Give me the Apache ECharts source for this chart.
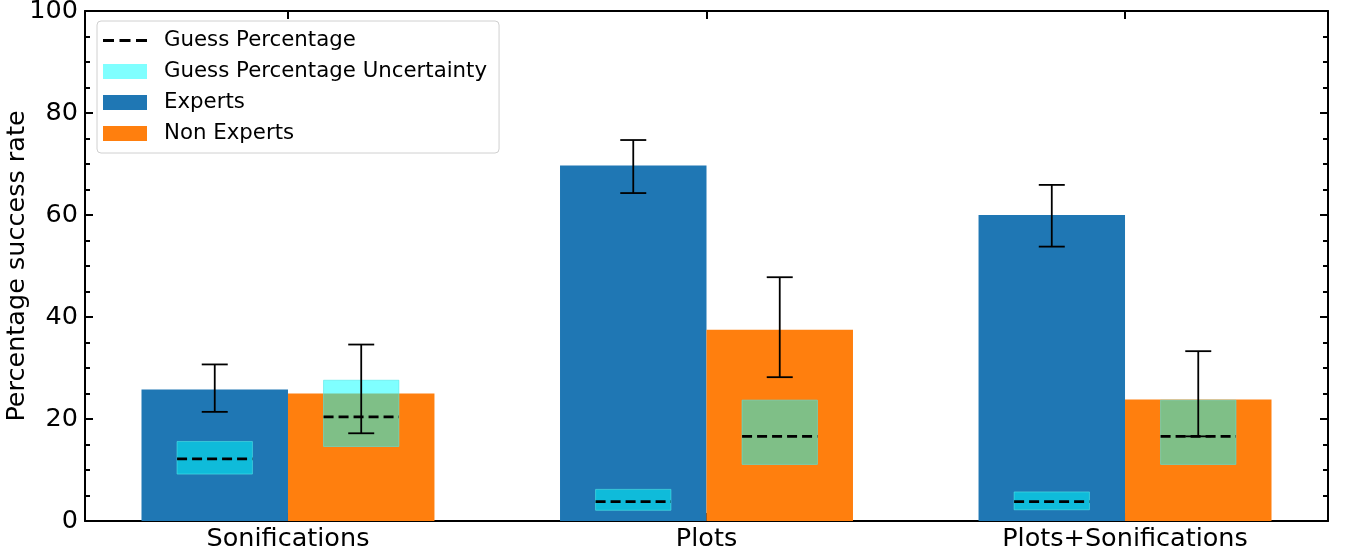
<!DOCTYPE html>
<html><head><meta charset="utf-8">
<script src="https://cdn.jsdelivr.net/npm/echarts@6/dist/echarts.min.js"></script>
<style>html,body{margin:0;padding:0;background:#fff}#c{width:1347px;height:556px}</style>
</head><body><div id="c"></div>
<script>
const categories = ['Sonifications', 'Plots', 'Plots+Sonifications'];
const experts = [25.8, 69.7, 60.0];
const nonExperts = [25.0, 37.5, 23.8];
const expertsErrLow = [21.4, 64.3, 53.8];
const expertsErrHigh = [30.7, 74.7, 65.9];
const nonExpertsErrLow = [17.2, 28.2, 16.6];
const nonExpertsErrHigh = [34.6, 47.8, 33.3];
const guessExperts = [12.2, 3.8, 3.8];
const guessExpertsLow = [9.2, 2.1, 2.2];
const guessExpertsHigh = [15.6, 6.2, 5.7];
const guessNonExperts = [20.4, 16.6, 16.6];
const guessNonExpertsLow = [14.6, 11.1, 11.1];
const guessNonExpertsHigh = [27.6, 23.7, 23.7];
const yTicks = [0, 20, 40, 60, 80, 100];

const BW = 0.35;   // bar width in x units
const GW = 0.09;   // half width of guess box

const FONT = 'DejaVu Sans';
const chart = echarts.init(document.getElementById('c'), null, {renderer: 'canvas'});

const barRows = [];
categories.forEach((c, i) => {
  barRows.push([i - BW / 2, experts[i], 0]);
  barRows.push([i + BW / 2, nonExperts[i], 1]);
});
const errRows = [];
categories.forEach((c, i) => {
  errRows.push([i - BW / 2, expertsErrLow[i], expertsErrHigh[i]]);
  errRows.push([i + BW / 2, nonExpertsErrLow[i], nonExpertsErrHigh[i]]);
});
const boxRows = [];
const guessRows = [];
categories.forEach((c, i) => {
  boxRows.push([i - BW / 2, guessExpertsLow[i], guessExpertsHigh[i]]);
  boxRows.push([i + BW / 2, guessNonExpertsLow[i], guessNonExpertsHigh[i]]);
  guessRows.push([i - BW / 2, guessExperts[i]]);
  guessRows.push([i + BW / 2, guessNonExperts[i]]);
});

function barSeries(name, color, group) {
  return {
    name, type: 'custom', xAxisIndex: 0, yAxisIndex: 0, z: 2,
    itemStyle: {color},
    encode: {x: 0, y: 1},
    data: barRows.filter(r => r[2] === group),
    renderItem(params, api) {
      const x = api.value(0), v = api.value(1);
      const p0 = api.coord([x - BW / 2, v]);
      const p1 = api.coord([x + BW / 2, 0]);
      return {type: 'rect', shape: {x: p0[0], y: p0[1], width: p1[0] - p0[0], height: p1[1] - p0[1]},
        style: {fill: color}};
    }
  };
}

const option = {
  animation: false,
  backgroundColor: '#fff',
  textStyle: {fontFamily: FONT},
  grid: {left: 85, right: 19, top: 11, bottom: 35, containLabel: false, outerBoundsMode: 'none'},
  legend: {
    left: 97, top: 21, orient: 'vertical', itemGap: 10, itemWidth: 44, itemHeight: 15,
    padding: [9, 12, 9, 6],
    borderColor: '#d0d0d0', borderWidth: 1, borderRadius: 4, backgroundColor: 'rgba(255,255,255,0.8)',
    textStyle: {fontFamily: FONT, fontSize: 21.3, lineHeight: 21, color: '#000', padding: [0, 0, 0, 12]},
    data: [
      {name: 'Guess Percentage', icon: 'path://M0,0h10v2.6h-10z M15,0h10v2.6h-10z M30,0h10v2.6h-10z', itemStyle: {color: '#000'}},
      {name: 'Guess Percentage Uncertainty', icon: 'rect', itemStyle: {color: 'rgba(0,255,255,0.5)'}},
      {name: 'Experts', icon: 'rect', itemStyle: {color: '#1f77b4'}},
      {name: 'Non Experts', icon: 'rect', itemStyle: {color: '#ff7f0e'}}
    ]
  },
  xAxis: [{
    type: 'value', min: -0.485, max: 2.485, position: 'bottom',
    axisLine: {show: true, onZero: false, lineStyle: {color: '#000', width: 2}},
    splitLine: {show: false},
    axisTick: {show: true, inside: true, length: 8, customValues: [0, 1, 2], lineStyle: {color: '#000', width: 2}},
    axisLabel: {show: true, customValues: [0, 1, 2], margin: 5, fontSize: 25.5, color: '#000', fontFamily: FONT,
      formatter: v => categories[Math.round(v)]}
  }, {
    type: 'value', min: -0.485, max: 2.485, position: 'top',
    axisLine: {show: true, onZero: false, lineStyle: {color: '#000', width: 2}},
    splitLine: {show: false},
    axisTick: {show: true, inside: true, length: 8, customValues: [0, 1, 2], lineStyle: {color: '#000', width: 2}},
    axisLabel: {show: false}
  }],
  yAxis: [{
    type: 'value', min: 0, max: 100, interval: 20, position: 'left',
    name: 'Percentage success rate', nameLocation: 'middle', nameGap: 55, nameMoveOverlap: false,
    nameTextStyle: {fontSize: 25.5, color: '#000', fontFamily: FONT},
    axisLine: {show: true, onZero: false, lineStyle: {color: '#000', width: 2}},
    splitLine: {show: false},
    axisTick: {show: true, inside: true, length: 8, lineStyle: {color: '#000', width: 2}},
    minorTick: {show: true, splitNumber: 4, length: 5, lineStyle: {color: '#000', width: 2}},
    minorSplitLine: {show: false},
    axisLabel: {fontSize: 25.5, color: '#000', margin: 7, fontFamily: FONT,
      customValues: yTicks, formatter: v => String(v)}
  }, {
    type: 'value', min: 0, max: 100, interval: 20, position: 'right',
    axisLine: {show: true, onZero: false, lineStyle: {color: '#000', width: 2}},
    splitLine: {show: false},
    axisTick: {show: true, inside: true, length: 8, lineStyle: {color: '#000', width: 2}},
    minorTick: {show: true, splitNumber: 4, length: 5, lineStyle: {color: '#000', width: 2}},
    minorSplitLine: {show: false},
    axisLabel: {show: false}
  }],
  series: [
    barSeries('Experts', '#1f77b4', 0),
    barSeries('Non Experts', '#ff7f0e', 1),
    {
      name: 'Guess Percentage Uncertainty', type: 'custom', z: 3,
      itemStyle: {color: 'rgba(0,255,255,0.5)'},
      encode: {x: 0, y: [1, 2]},
      data: boxRows,
      renderItem(params, api) {
        const x = api.value(0);
        const p0 = api.coord([x - GW, api.value(2)]);
        const p1 = api.coord([x + GW, api.value(1)]);
        return {type: 'rect', shape: {x: p0[0], y: p0[1], width: p1[0] - p0[0], height: p1[1] - p0[1]},
          style: {fill: 'rgba(0,255,255,0.5)', stroke: 'rgba(80,230,230,0.6)', lineWidth: 1}};
      }
    },
    {
      name: 'Guess Percentage', type: 'custom', z: 4,
      itemStyle: {color: '#000'},
      encode: {x: 0, y: 1},
      data: guessRows,
      renderItem(params, api) {
        const x = api.value(0), v = api.value(1);
        const p0 = api.coord([x - GW, v]);
        const p1 = api.coord([x + GW, v]);
        return {type: 'line', shape: {x1: p0[0], y1: p0[1], x2: p1[0], y2: p1[1]},
          style: {stroke: '#000', lineWidth: 2.8, lineDash: [10, 5]}};
      }
    },
    {
      name: 'err', type: 'custom', z: 5,
      encode: {x: 0, y: [1, 2]},
      data: errRows,
      renderItem(params, api) {
        const x = api.value(0);
        const lo = api.coord([x, api.value(1)]);
        const hi = api.coord([x, api.value(2)]);
        const cw = 13;
        const st = {stroke: '#000', lineWidth: 1.8};
        return {type: 'group', children: [
          {type: 'line', shape: {x1: lo[0], y1: lo[1], x2: hi[0], y2: hi[1]}, style: st},
          {type: 'line', shape: {x1: lo[0] - cw, y1: lo[1], x2: lo[0] + cw, y2: lo[1]}, style: st},
          {type: 'line', shape: {x1: hi[0] - cw, y1: hi[1], x2: hi[0] + cw, y2: hi[1]}, style: st}
        ]};
      }
    }
  ]
};
chart.setOption(option);
</script></body></html>
